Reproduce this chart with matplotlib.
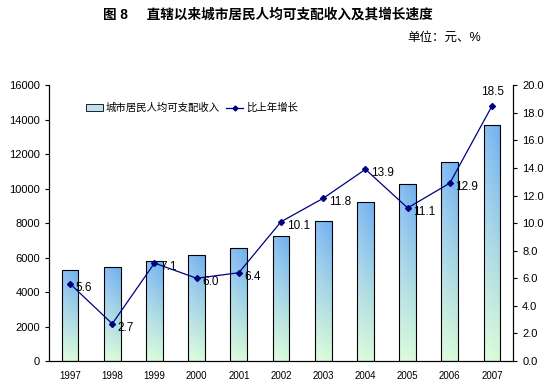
import matplotlib
matplotlib.use("Agg")
import matplotlib.pyplot as plt
import numpy as np
from matplotlib.patches import Patch
from matplotlib.lines import Line2D

plt.rcParams['font.family'] = ['Liberation Sans', 'Noto Sans CJK SC', 'DejaVu Sans']

years = ["1997", "1998", "1999", "2000", "2001", "2002", "2003", "2004", "2005", "2006", "2007"]
income = [5302, 5443, 5828, 6176, 6572, 7238, 8094, 9221, 10244, 11570, 13715]
growth = [5.6, 2.7, 7.1, 6.0, 6.4, 10.1, 11.8, 13.9, 11.1, 12.9, 18.5]

LINE_COLOR = "#000080"
TOP_BLUE = np.array([110, 175, 240]) / 255
BOT_GREEN = np.array([215, 250, 215]) / 255

fig = plt.figure(figsize=(5.5, 3.89), dpi=100)
ax = fig.add_axes([0.089, 0.072, 0.844, 0.709])
ax2 = ax.twinx()

x = np.arange(len(years))
bars = ax.bar(x, income, width=0.4, color="none", edgecolor="black", lw=0.8, zorder=3)

# gradient fill: blue at top -> pale green at bottom, lighter on the left edge
ny, nx = 64, 16
v = np.linspace(0, 1, ny)[:, None, None]          # 0 = bottom
h = np.linspace(0, 1, nx)[None, :, None]          # 0 = left
base = BOT_GREEN * (1 - v) + TOP_BLUE * v
k = 0.8 + 0.2 * h
grad = np.clip(base * k + (1 - k), 0, 1)
for b in bars:
    x0, w, hgt = b.get_x(), b.get_width(), b.get_height()
    im = ax.imshow(grad, extent=(x0, x0 + w, 0, hgt), origin="lower",
                   aspect="auto", zorder=2, interpolation="bilinear")
    im.set_clip_path(b)

ax.set_xlim(-0.5, len(years) - 0.5)
ax.set_ylim(0, 16000)
ax.set_yticks(range(0, 16001, 2000))
ax.set_xticks(x)
ax.set_xticklabels(years, fontsize=7)
ax.tick_params(axis="x", length=0, pad=7)
ax.tick_params(axis="y", labelsize=8, length=3, direction="out")
ax.spines["top"].set_visible(False)
ax2.spines["top"].set_visible(False)
for s in ("left", "bottom"):
    ax.spines[s].set_linewidth(0.8)
ax2.spines["right"].set_linewidth(0.8)

ax2.plot(x, growth, color=LINE_COLOR, lw=0.9, marker="D", ms=3, zorder=4)
ax2.set_ylim(0, 20)
ax2.set_yticks(np.arange(0, 20.1, 2))
ax2.set_yticklabels([f"{t:.1f}" for t in np.arange(0, 20.1, 2)])
ax2.tick_params(axis="y", labelsize=8, length=3, direction="out")

for i, g in enumerate(growth):
    if i == len(growth) - 1:
        ax2.annotate(f"{g:.1f}", (x[i], g), xytext=(0, 6), textcoords="offset points",
                     ha="center", va="bottom", fontsize=8.5)
    else:
        ax2.annotate(f"{g:.1f}", (x[i], g), xytext=(4, -3), textcoords="offset points",
                     ha="left", va="center", fontsize=8.5)

handles = [Patch(facecolor="#bfe0f0", edgecolor="black", lw=0.6),
           Line2D([], [], color=LINE_COLOR, lw=0.9, marker="D", ms=2.5)]
ax2.legend(handles, ["城市居民人均可支配收入", "比上年增长"], loc="upper left",
           bbox_to_anchor=(0.06, 0.97), ncol=2, frameon=False, fontsize=7.5,
           handlelength=1.6, handletextpad=0.3, columnspacing=0.6)

fig.text(0.487, 0.962, "图 8     直辖以来城市居民人均可支配收入及其增长速度",
         ha="center", va="center", fontsize=9.8, fontweight="bold")
fig.text(0.875, 0.902, "单位：元、%", ha="right", va="center", fontsize=9)

fig.savefig("out.png", dpi=100)
